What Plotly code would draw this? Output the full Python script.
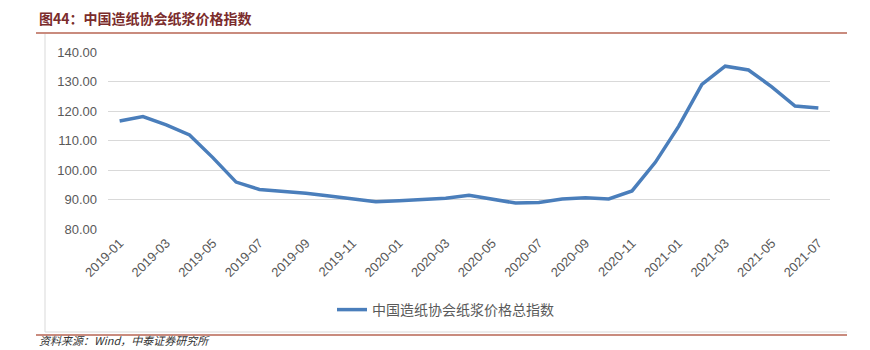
import plotly.graph_objects as go

months = ["2019-01","2019-02","2019-03","2019-04","2019-05","2019-06","2019-07","2019-08","2019-09","2019-10","2019-11","2019-12",
          "2020-01","2020-02","2020-03","2020-04","2020-05","2020-06","2020-07","2020-08","2020-09","2020-10","2020-11","2020-12",
          "2021-01","2021-02","2021-03","2021-04","2021-05","2021-06","2021-07"]
values = [116.6, 118.1, 115.3, 111.9, 104.2, 95.9, 93.4, 92.8, 92.1, 91.2, 90.2, 89.2,
          89.6, 89.9, 90.4, 91.4, 90.2, 88.8, 89.0, 90.2, 90.6, 90.2, 92.9, 102.6,
          114.8, 129.0, 135.2, 133.9, 128.2, 121.7, 121.0]
series_name = "中国造纸协会纸浆价格总指数"
title_text = "图44：中国造纸协会纸浆价格指数"
source_text = "资料来源：Wind，中泰证券研究所"
y_ticks = [80, 90, 100, 110, 120, 130, 140]

W, H = 870, 350
L, R, T, B = 108, 830, 52, 229
def px(x): return (x - L) / (R - L)
def py(y): return (B - y) / (B - T)

idx = list(range(len(months)))
fig = go.Figure()
fig.add_trace(go.Scatter(x=idx, y=values, mode="lines", name=series_name,
                         line=dict(color="#4A7EBB", width=3.5)))

font_cjk = "Noto Sans CJK SC, Microsoft YaHei, sans-serif"
fig.update_layout(
    width=W, height=H,
    margin=dict(l=L, r=W - R, t=T, b=H - B),
    paper_bgcolor="white", plot_bgcolor="white",
    font=dict(family=font_cjk, color="#595959", size=13),
    showlegend=True,
    legend=dict(orientation="h", xref="container", yref="container",
                x=332 / W, y=1 - 310 / H, xanchor="left", yanchor="middle",
                font=dict(size=14, color="#595959", family=font_cjk),
                bgcolor="rgba(0,0,0,0)"),
    xaxis=dict(range=[-0.5, len(months) - 0.5], tickmode="array",
               tickvals=idx[::2], ticktext=months[::2], tickangle=-45,
               showgrid=False, zeroline=False, showline=False, ticks="",
               ticklabelstandoff=3,
               tickfont=dict(size=13, color="#595959", family="Liberation Sans, Arial, sans-serif")),
    yaxis=dict(range=[80, 140], tickmode="array", tickvals=y_ticks,
               ticktext=[f"{v:.2f}" for v in y_ticks],
               showgrid=True, gridcolor="#D9D9D9", gridwidth=1, zeroline=False,
               showline=False, ticks="", ticklabelstandoff=10,
               tickfont=dict(size=13, color="#595959", family="Liberation Sans, Arial, sans-serif")),
)

shapes = []
# chart frame (left and bottom)
shapes.append(dict(type="line", xref="paper", yref="paper", x0=px(45), x1=px(45), y0=py(34), y1=py(332),
                   line=dict(color="#D9D9D9", width=1)))
shapes.append(dict(type="line", xref="paper", yref="paper", x0=px(45), x1=px(847), y0=py(332), y1=py(332),
                   line=dict(color="#D9D9D9", width=1)))
# red rules
for yy in (33, 335):
    shapes.append(dict(type="line", xref="paper", yref="paper", x0=px(36), x1=px(847), y0=py(yy), y1=py(yy),
                       line=dict(color="#C98B7E", width=2)))
fig.update_layout(shapes=shapes)

fig.add_annotation(text="<b>" + title_text + "</b>", xref="paper", yref="paper",
                   x=px(37), y=py(18), xanchor="left", yanchor="middle", showarrow=False,
                   font=dict(size=14, color="#7B2C2C", family=font_cjk))
fig.add_annotation(text="<i>" + source_text + "</i>", xref="paper", yref="paper",
                   x=px(37), y=py(350), xanchor="left", yanchor="bottom", showarrow=False,
                   font=dict(size=11, color="#333333", family=font_cjk))

fig.write_html("out.html")
